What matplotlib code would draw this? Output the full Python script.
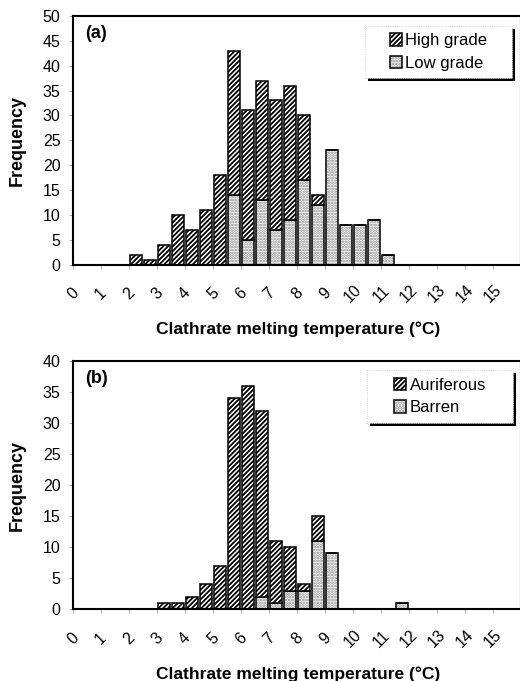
import matplotlib
matplotlib.use("Agg")
import matplotlib.pyplot as plt
import matplotlib.transforms as mtransforms
from matplotlib.patches import Patch, Rectangle

plt.rcParams["font.family"] = ["Liberation Sans", "DejaVu Sans"]
plt.rcParams["hatch.linewidth"] = 1.3

# (a) bin start (°C), 0.5 degree bins
temps_a = [2.0, 2.5, 3.0, 3.5, 4.0, 4.5, 5.0, 5.5, 6.0, 6.5,
           7.0, 7.5, 8.0, 8.5, 9.0, 9.5, 10.0, 10.5, 11.0]
high_grade = [2, 1, 4, 10, 7, 11, 18, 29, 26, 24, 26, 27, 13, 2, 0, 0, 0, 0, 0]
low_grade = [0, 0, 0, 0, 0, 0, 0, 14, 5, 13, 7, 9, 17, 12, 23, 8, 8, 9, 2]

# (b)
temps_b = [3.0, 3.5, 4.0, 4.5, 5.0, 5.5, 6.0, 6.5, 7.0, 7.5,
           8.0, 8.5, 9.0, 9.5, 10.0, 10.5, 11.0, 11.5]
auriferous = [1, 1, 2, 4, 7, 34, 36, 30, 10, 7, 1, 4, 0, 0, 0, 0, 0, 0]
barren = [0, 0, 0, 0, 0, 0, 0, 2, 1, 3, 3, 11, 9, 0, 0, 0, 0, 1]

xticks = list(range(16))

fig = plt.figure(figsize=(5.2, 6.81), dpi=100)
ax_a = fig.add_axes([0.1404, 0.6116, 0.8615, 0.3649])
ax_b = fig.add_axes([0.1404, 0.1053, 0.8615, 0.3646])

W = 0.43
DOTS = dict(facecolor="white", edgecolor="#8c8c8c", hatch="......", linewidth=0)
STRIPES = dict(facecolor="white", edgecolor="black", hatch="///////", linewidth=1.1)


def draw_panel(ax, temps, top_vals, bot_vals, names, ymax, tag, box):
    x = [t + 0.25 for t in temps]
    ax.bar(x, bot_vals, width=W, **DOTS)
    ax.bar(x, bot_vals, width=W, fill=False, edgecolor="black", linewidth=1.1)
    ax.bar(x, top_vals, width=W, bottom=bot_vals, **STRIPES)

    ax.set_xlim(0, 16)
    ax.set_ylim(0, ymax)
    ax.set_yticks(range(0, ymax + 1, 5))
    ax.set_xticks(xticks)
    ax.set_xticklabels([str(t) for t in xticks], rotation=45, ha="center", va="center")
    off = mtransforms.ScaledTranslation(-5 / 72, 0, fig.dpi_scale_trans)
    for lab in ax.get_xticklabels():
        lab.set_transform(lab.get_transform() + off)

    ax.tick_params(axis="x", length=3, width=0.6, color="#999999", pad=18, labelsize=11.5)
    ax.tick_params(axis="y", length=3, width=0.6, color="#999999", pad=6, labelsize=11.5)
    for s in ax.spines.values():
        s.set_linewidth(1.5)

    ax.set_xlabel("Clathrate melting temperature (°C)", fontsize=12.5, fontweight="bold")
    ax.xaxis.set_label_coords(0.503, -0.231)
    ax.set_ylabel("Frequency", fontsize=13, fontweight="bold")
    ax.yaxis.set_label_coords(-0.105, 0.5)
    ax.text(0.027, 0.965, tag, transform=ax.transAxes, fontsize=13,
            fontweight="bold", va="top", ha="left")

    # legend box with dark drop shadow
    x0, y0, x1, y1 = box
    ax.add_patch(Rectangle((x0 + 0.006, y0 - 0.011), x1 - x0, y1 - y0,
                           transform=ax.transAxes, facecolor="black",
                           edgecolor="none", zorder=4))
    ax.add_patch(Rectangle((x0, y0), x1 - x0, y1 - y0, transform=ax.transAxes,
                           facecolor="white", edgecolor="#c8c8c8",
                           linewidth=0.6, linestyle=":", zorder=5))
    h_top = Patch(**STRIPES)
    h_bot = (Patch(**DOTS), Patch(fill=False, edgecolor="black", linewidth=1.1))
    leg = ax.legend([h_top, h_bot], names, loc="center",
                    bbox_to_anchor=(x0, y0, x1 - x0, y1 - y0),
                    bbox_transform=ax.transAxes, frameon=False, fontsize=12,
                    handlelength=0.75, handleheight=0.75, handletextpad=0.2,
                    labelspacing=0.45, borderpad=0)
    leg.set_zorder(6)


draw_panel(ax_a, temps_a, high_grade, low_grade, ["High grade", "Low grade"],
           50, "(a)", (0.652, 0.750, 0.980, 0.960))
draw_panel(ax_b, temps_b, auriferous, barren, ["Auriferous", "Barren"],
           40, "(b)", (0.656, 0.750, 0.982, 0.964))

fig.savefig("out.png", dpi=100)
